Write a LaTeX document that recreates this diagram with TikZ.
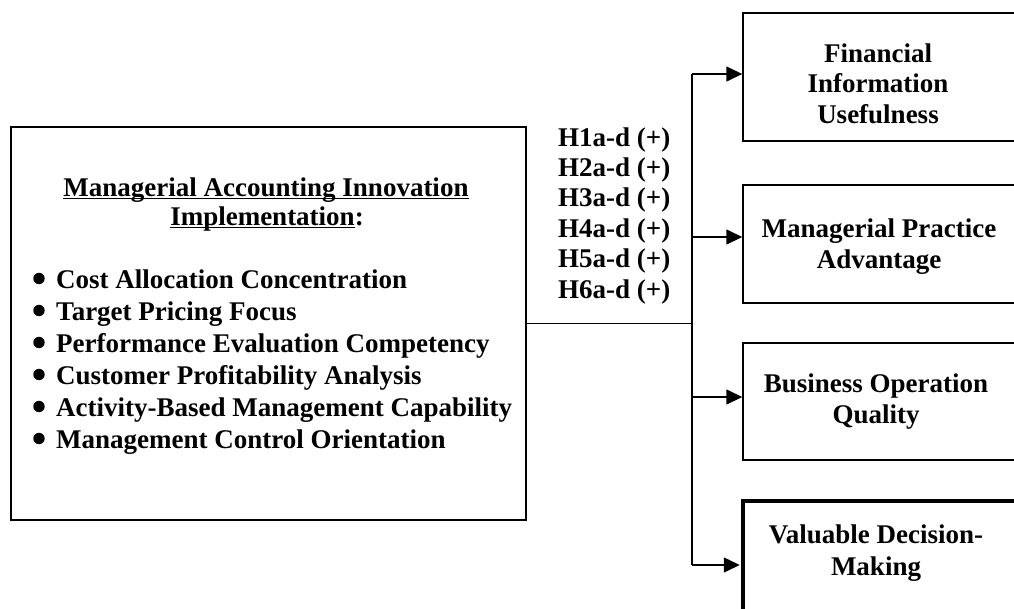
\documentclass[tikz,border=0pt]{standalone}
\usepackage{fontspec}
\setmainfont{Liberation Serif}
\usetikzlibrary{arrows.meta,calc}
\newcommand{\undr}[1]{\setbox0=\hbox{#1}\rlap{\rule[-3.3pt]{\wd0}{1.8pt}}\box0}
\begin{document}
\begin{tikzpicture}[x=1pt,y=-1pt,
  txt/.style={font=\bfseries\fontsize{27}{31}\selectfont, inner sep=0pt, anchor=base},
  itm/.style={txt, anchor=base west},
  frame/.style={draw, line width=1.4pt, inner sep=0pt},
  thickframe/.style={draw, line width=3.3pt, inner sep=0pt},
  conn/.style={line width=1.4pt},
  arr/.style={conn, -{Triangle[length=16pt,width=15pt]}}]
\useasboundingbox (0,0) rectangle (1014,608);
\clip (0,0) rectangle (1014,608);

% left box
\node[frame, minimum width=515pt, minimum height=393pt] (L) at (268.5,323.5) {};
\node[txt] (t1) at (266,196) {\undr{Managerial Accounting Innovation}};
\node[txt] (t2) at (267,225) {\undr{Implementation}:};
\foreach \y/\t [count=\i] in {288/Cost Allocation Concentration,
  320/Target Pricing Focus,
  352/Performance Evaluation Competency,
  384/Customer Profitability Analysis,
  416/Activity-Based Management Capability,
  448/Management Control Orientation}{
  \node[itm] (b\i) at (56,\y) {\t};
  \fill ($(b\i.base west)+(-17,-9.5)$) circle (5.7pt);
}

% hypotheses
\foreach \y [count=\i] in {146,176,206,237,267,298}{
  \node[itm] (h\i) at (558,\y) {H\i a-d (+)};
}

% right boxes
\node[frame, minimum width=277pt, minimum height=128pt] (R1) at (881.5,77) {};
\node[frame, minimum width=277pt, minimum height=118pt] (R2) at (881.5,244) {};
\node[frame, minimum width=277pt, minimum height=117pt] (R3) at (881.5,401.5) {};
\node[thickframe, minimum width=277pt, minimum height=140pt] (R4) at (881.5,571) {};

\node[txt] (r1a) at (878,62) {Financial};
\node[txt] (r1b) at (878,92) {Information};
\node[txt] (r1c) at (878,123) {Usefulness};
\node[txt] (r2a) at (879,237) {Managerial Practice};
\node[txt] (r2b) at (879,268) {Advantage};
\node[txt] (r3a) at (876,392) {Business Operation};
\node[txt] (r3b) at (876,423) {Quality};
\node[txt] (r4a) at (876,543) {Valuable Decision-};
\node[txt] (r4b) at (876,575) {Making};

% connectors
\coordinate (J) at (692,323.5);
\coordinate (A1) at (692,74);
\coordinate (A2) at (692,237);
\coordinate (A3) at (692,397);
\coordinate (A4) at (692,565);
\draw[conn] (L.east) -- (J);
\draw[conn] (A1) -- (A4);
\draw[arr] (A1) -- (A1 -| R1.west);
\draw[arr] (A2) -- (A2 -| R2.west);
\draw[arr] (A3) -- (A3 -| R3.west);
\draw[arr] (A4) -- ([xshift=-1.6pt]A4 -| R4.west);
\end{tikzpicture}
\end{document}
